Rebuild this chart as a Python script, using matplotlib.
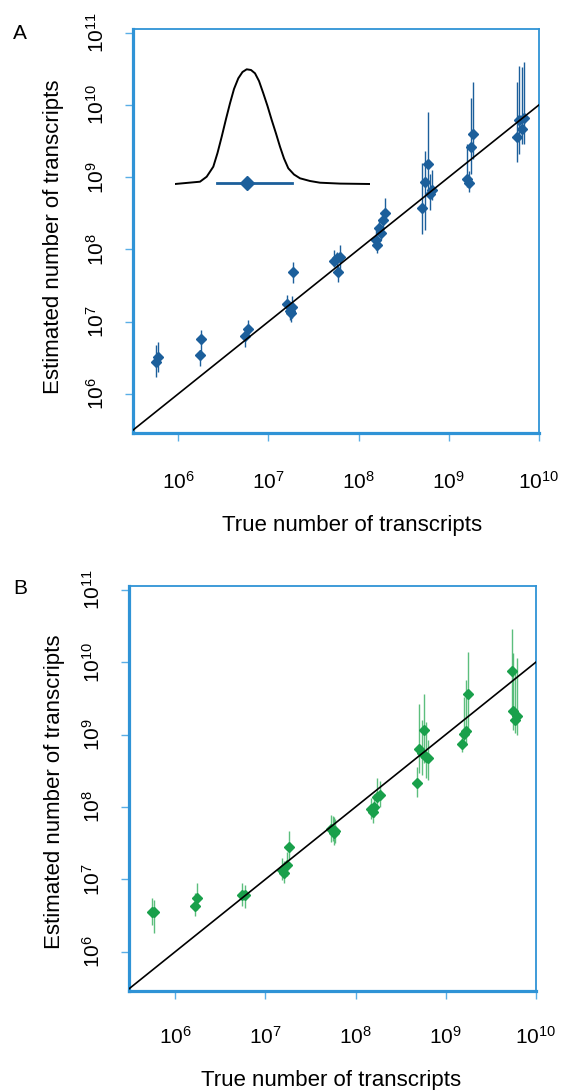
import matplotlib
matplotlib.use("Agg")
import numpy as np
import matplotlib.pyplot as plt
from matplotlib.ticker import NullLocator

plt.rcParams['font.family'] = ['Liberation Sans', 'DejaVu Sans']
plt.rcParams['mathtext.fontset'] = 'custom'
plt.rcParams['mathtext.rm'] = 'Liberation Sans'

# panel A: true count, estimate, lower / upper end of the bar
a_true = [5.7e5, 6.0e5, 1.73e6, 1.79e6, 5.5e6, 5.9e6, 1.61e7, 1.73e7, 1.83e7, 1.88e7, 1.78e7,
          5.3e7, 5.8e7, 6.2e7, 5.9e7, 1.55e8, 1.61e8, 1.70e8, 1.79e8, 1.85e8, 1.98e8,
          5.1e8, 5.5e8, 5.9e8, 6.5e8, 6.2e8, 1.61e9, 1.68e9, 1.75e9, 1.85e9,
          5.7e9, 6.0e9, 6.4e9, 6.8e9]
a_est = [2.8e6, 3.2e6, 3.5e6, 5.7e6, 6.3e6, 7.9e6, 1.76e7, 1.42e7, 1.58e7, 4.9e7, 1.32e7,
         6.9e7, 7.5e7, 7.8e7, 4.9e7, 1.35e8, 1.17e8, 1.95e8, 1.70e8, 2.55e8, 3.2e8,
         3.8e8, 8.5e8, 1.5e9, 6.6e8, 5.8e8, 9.5e8, 8.3e8, 2.6e9, 3.9e9,
         3.6e9, 6.1e9, 4.7e9, 6.5e9]
a_lo = [1.74e6, 2.0e6, 2.4e6, 3.85e6, 4.5e6, 6.2e6, 1.32e7, 1.05e7, 1.12e7, 3.4e7, 1.0e7,
        5.75e7, 5.1e7, 5.1e7, 3.55e7, 9.8e7, 8.9e7, 1.51e8, 1.35e8, 1.86e8, 2.4e8,
        1.66e8, 1.86e8, 5.4e8, 4.8e8, 3.5e8, 7.2e8, 6.3e8, 1.12e9, 1.78e9,
        1.62e9, 2.1e9, 2.9e9, 2.9e9]
a_hi = [4.8e6, 5.2e6, 4.1e6, 7.7e6, 7.7e6, 1.05e7, 2.35e7, 1.78e7, 2.24e7, 6.8e7, 1.66e7,
        9.8e7, 9.3e7, 1.15e8, 6.0e7, 1.86e8, 1.51e8, 2.57e8, 2.19e8, 3.47e8, 5.1e8,
        1.55e9, 2.3e9, 7.9e9, 1.26e9, 1.12e9, 2.9e9, 1.2e9, 1.23e10, 2.1e10,
        2.1e10, 3.5e10, 3.3e10, 3.9e10]

# panel B
b_true = [5.6e5, 5.9e5, 1.65e6, 1.76e6, 5.5e6, 5.9e6, 1.54e7, 1.63e7, 1.75e7, 1.82e7,
          5.4e7, 5.75e7, 6.0e7, 5.6e7, 1.48e8, 1.55e8, 1.62e8, 1.74e8, 1.86e8,
          4.8e8, 5.0e8, 5.4e8, 5.7e8, 6.0e8, 6.3e8, 1.51e9, 1.58e9, 1.69e9, 1.76e9,
          5.4e9, 5.6e9, 5.8e9, 6.2e9]
b_est = [3.6e6, 3.5e6, 4.35e6, 5.6e6, 6.1e6, 6.1e6, 1.35e7, 1.22e7, 1.58e7, 2.83e7,
         5.0e7, 4.4e7, 4.6e7, 4.8e7, 9.5e7, 8.5e7, 1.0e8, 1.38e8, 1.48e8,
         2.16e8, 6.3e8, 5.5e8, 1.15e9, 4.9e8, 4.7e8, 7.4e8, 1.02e9, 1.12e9, 3.6e9,
         7.5e9, 2.1e9, 1.6e9, 1.8e9]
b_lo = [2.35e6, 1.82e6, 3.1e6, 3.8e6, 4.3e6, 4.0e6, 9.8e6, 8.9e6, 1.1e7, 1.86e7,
        3.3e7, 3.0e7, 3.2e7, 3.4e7, 6.8e7, 6.0e7, 7.2e7, 9.1e7, 1.0e8,
        1.38e8, 2.95e8, 2.8e8, 4.0e8, 2.5e8, 2.35e8, 5.75e8, 7.2e8, 7.1e8, 1.15e9,
        2.0e9, 1.15e9, 1.05e9, 1.0e9]
b_hi = [5.5e6, 5.2e6, 6.5e6, 8.9e6, 8.9e6, 8.5e6, 2.0e7, 1.82e7, 2.4e7, 4.6e7,
        7.8e7, 7.2e7, 6.9e7, 7.6e7, 1.35e8, 1.15e8, 1.51e8, 2.5e8, 2.3e8,
        3.6e8, 2.6e9, 1.58e9, 3.6e9, 1.5e9, 8.3e8, 1.05e9, 3.3e9, 5.6e9, 1.38e10,
        2.9e10, 1.35e10, 7.9e9, 1.15e10]

# inset density sketch (arbitrary units)
inset_x = [0, 25, 31.7, 38.3, 42.5, 46.7, 51, 55, 59, 63.3, 67.5, 71.7, 76, 80, 84, 88.3,
           92.5, 96.7, 101, 105, 109, 113.3, 119, 125, 135, 145, 165, 195]
inset_y = [0, 2.3, 7.3, 17.3, 31, 47.3, 65, 80.7, 95, 105.7, 112, 114.7, 114, 110.7, 103,
           90.7, 78, 64, 50.5, 37.3, 25.5, 15.7, 9.5, 5.7, 3, 1.3, 0.4, 0]
inset_pt = 71.5
inset_bar = [42.3, 117.3]

x_ticks = [1e6, 1e7, 1e8, 1e9, 1e10]
y_ticks = [1e6, 1e7, 1e8, 1e9, 1e10, 1e11]

spine_col = '#2f93d6'
tick_col = '#5aaee6'
blue = '#1c5f9b'
green = '#19a04b'
green_bar = '#3fb366'

fig = plt.figure(figsize=(5.71, 10.9), dpi=100)


def panel(rect, xs, ys, lo, hi, col, bar_col, bar_alpha, xlim, xpad, letter, ylab_xy, xlab_xy):
    ax = fig.add_axes(rect)
    ax.set_xscale('log')
    ax.set_yscale('log')
    ax.set_xlim(*xlim)
    ax.set_ylim(10 ** 5.46, 10 ** 11.05)
    xs = np.array(xs)
    ys = np.array(ys)
    yerr = [ys - np.array(lo), np.array(hi) - ys]
    ax.errorbar(xs, ys, yerr=yerr, fmt='none', ecolor=bar_col, elinewidth=1.0,
                alpha=bar_alpha, zorder=2)
    ax.plot(xs, ys, 'D', color=col, ms=4.8, mec=col, zorder=3)
    ax.axline((1e6, 1e6), (1e9, 1e9), color='black', lw=1.2, zorder=4)

    for s in ['left', 'bottom']:
        ax.spines[s].set_linewidth(2.3)
        ax.spines[s].set_color(spine_col)
    for s in ['top', 'right']:
        ax.spines[s].set_linewidth(1.3)
        ax.spines[s].set_color(spine_col)

    ax.set_xticks(x_ticks)
    ax.set_yticks(y_ticks)
    ax.xaxis.set_minor_locator(NullLocator())
    ax.yaxis.set_minor_locator(NullLocator())
    ax.tick_params(axis='x', length=6, width=1.0, color=tick_col, pad=xpad, labelsize=15)
    ax.tick_params(axis='y', length=6, width=1.0, color=tick_col, pad=12, labelsize=15)
    for lab in ax.get_yticklabels():
        lab.set_rotation(90)
        lab.set_va('center')

    ax.set_ylabel('Estimated number of transcripts', fontsize=16)
    ax.yaxis.set_label_coords(*ylab_xy)
    ax.yaxis.label.set_va('center')
    ax.set_xlabel('True number of transcripts', fontsize=16)
    ax.xaxis.set_label_coords(*xlab_xy)
    ax.xaxis.label.set_va('center')

    ax.text(-0.28, 1.0, letter, transform=ax.transAxes, fontsize=15, ha='center', va='center')
    return ax


axA = panel([133 / 571, 1 - 433 / 1090, 406 / 571, 404 / 1090], a_true, a_est, a_lo, a_hi,
            blue, blue, 1.0, (10 ** 5.5, 1e10), 21, 'A', (-0.197, 0.485), (0.54, -0.228))
axA.texts[0].set_position((-0.278, 0.99))

axB = panel([129 / 571, 1 - 991 / 1090, 407 / 571, 405 / 1090], b_true, b_est, b_lo, b_hi,
            green, green_bar, 0.85, (10 ** 5.49, 1e10), 19, 'B', (-0.182, 0.491), (0.496, -0.22))
axB.texts[0].set_position((-0.268, 0.995))

# inset sketch in panel A
axI = fig.add_axes([175 / 571, 1 - 190 / 1090, 195 / 571, 130 / 1090])
axI.set_xlim(0, 195)
axI.set_ylim(-6, 124)
axI.axis('off')
axI.plot(inset_x, inset_y, color='black', lw=1.4)
axI.plot(inset_bar, [0.7, 0.7], color=blue, lw=2.0)
axI.plot([inset_pt], [0.7], 'D', color=blue, ms=7)

fig.savefig('out.png', dpi=100)
